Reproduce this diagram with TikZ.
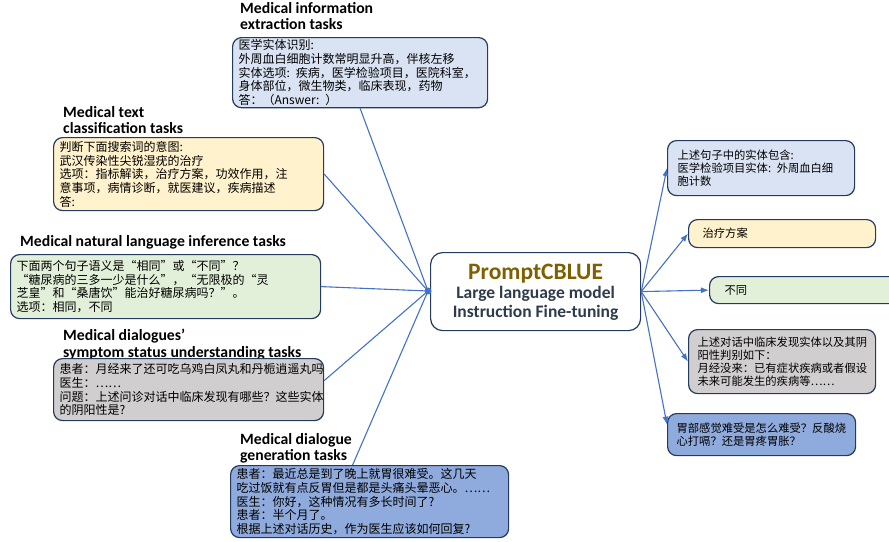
\documentclass[tikz,border=0pt]{standalone}
\usepackage{fontspec}
\setmainfont{Carlito}
\newfontfamily\cjk{Noto Sans CJK SC}
\usepackage{tikz}
\usetikzlibrary{
    arrows.meta,
    positioning
}
\definecolor{boxline}{HTML}{243A5E}
\definecolor{linkblue}{HTML}{4472C4}
\definecolor{fillblue}{HTML}{DAE3F3}
\definecolor{fillyellow}{HTML}{FFF2CC}
\definecolor{fillgreen}{HTML}{E2F0D9}
\definecolor{fillgray}{HTML}{D0CECE}
\definecolor{filldeep}{HTML}{8FAADC}
\definecolor{promptgold}{HTML}{7F6000}
\definecolor{slate}{HTML}{2F3A4A}
\tikzset{
    taskbox/.style={draw=boxline, line width=1.2pt, rounded corners=9pt,
        anchor=north west, align=left, inner xsep=6pt, inner ysep=2pt,
        font=\cjk\fontsize{12}{13.7}\selectfont},
    answerbox/.style={taskbox, font=\cjk\fontsize{11.3}{13.2}\selectfont},
    tasktitle/.style={anchor=north west, align=left, inner sep=0pt,
        font=\bfseries\fontsize{15.7}{16.5}\selectfont},
    link/.style={draw=linkblue, line width=1.1pt},
    answer/.style={link, -{Latex[length=8pt,width=6pt]}},
}

\begin{document}
\begin{tikzpicture}[x=1pt,y=-1pt]
    \useasboundingbox (0,0) rectangle (889,541);

    % task prompts on the left
    \node[tasktitle] (t1) at (240,2) {Medical information\\extraction tasks};
    \node[taskbox, fill=fillblue, text width=243pt, minimum height=69pt] (b1) at (232,37)
        {医学实体识别:\\外周血白细胞计数常明显升高，伴核左移\\实体选项: 疾病，医学检验项目，医院科室，\\身体部位，微生物类，临床表现，药物\\答：（Answer: ）};

    \node[tasktitle] (t2) at (63,106) {Medical text\\classification tasks};
    \node[taskbox, fill=fillyellow, text width=258pt, minimum height=73pt] (b2) at (53,137)
        {判断下面搜索词的意图:\\武汉传染性尖锐湿疣的治疗\\选项：指标解读，治疗方案，功效作用，注\\意事项，病情诊断，就医建议，疾病描述\\答:};

    \node[tasktitle] (t3) at (20,235) {Medical natural language inference tasks};
    \node[taskbox, fill=fillgreen, text width=298pt, minimum height=64pt] (b3) at (10,254)
        {下面两个句子语义是“相同”或“不同”？\\ “糖尿病的三多一少是什么”，“无限极的“灵\\芝皇”和“桑唐饮”能治好糖尿病吗？”。\\选项：相同，不同};

    \node[tasktitle] (t4) at (63,329) {Medical dialogues’\\symptom status understanding tasks};
    \node[taskbox, fill=fillgray, text width=258pt, minimum height=62pt] (b4) at (53,358)
        {患者：月经来了还可吃乌鸡白凤丸和丹栀逍遥丸吗\\医生：……\\问题：上述问诊对话中临床发现有哪些？这些实体\\的阴阳性是?};

    \node[tasktitle] (t5) at (240,433) {Medical dialogue\\generation tasks};
    \node[taskbox, fill=filldeep, text width=266pt, minimum height=72pt] (b5) at (230,465)
        {患者：最近总是到了晚上就胃很难受。这几天\\吃过饭就有点反胃但是都是头痛头晕恶心。……\\医生：你好，这种情况有多长时间了?\\患者：半个月了。\\根据上述对话历史，作为医生应该如何回复?};

    % the model
    \node[draw=boxline, line width=1.2pt, rounded corners=12pt, fill=white,
        minimum width=210pt, minimum height=78pt, anchor=north west] (model) at (430,252) {};
    \node[align=center, font=\bfseries\fontsize{17.5}{19}\selectfont, text=slate] (mtext) at ([yshift=-1pt]model.center)
        {\textcolor{promptgold}{\fontsize{23.5}{24}\selectfont PromptCBLUE}\\Large language model\\Instruction Fine-tuning};
    \coordinate (hub) at (428,291);

    % answers on the right
    \node[answerbox, fill=fillblue, inner xsep=10pt, text width=167pt, minimum height=55pt] (r1) at (667,140)
        {上述句子中的实体包含:\\医学检验项目实体: 外周血白细\\胞计数};
    \node[answerbox, fill=fillyellow, inner xsep=14pt, text width=159pt, minimum height=28pt] (r2) at (688,219)
        {治疗方案};
    \node[answerbox, fill=fillgreen, inner xsep=15pt, text width=170pt, minimum height=27pt] (r3) at (709,276)
        {不同};
    \node[answerbox, fill=fillgray, inner xsep=9pt, text width=169pt, minimum height=64pt] (r4) at (688,329)
        {上述对话中临床发现实体以及其阴\\阳性判别如下：\\月经没来：已有症状疾病或者假设\\未来可能发生的疾病等……};
    \node[answerbox, fill=filldeep, inner xsep=9pt, text width=170pt, minimum height=42pt] (r5) at (667,413)
        {胃部感觉难受是怎么难受？反酸烧\\心打嗝？还是胃疼胃胀？};

    % connectors
    \draw[link] (b1.south) -- (hub);
    \draw[link] (b2.east) -- (hub);
    \draw[link] (b3.east) -- (hub);
    \draw[link] ([yshift=9pt]b4.east) -- (hub);
    \draw[link] ([xshift=-17pt]b5.north) -- (hub);
    \fill[linkblue] (hub) circle (3.5pt);

    \draw[answer] (model.east) -- (r1.west);
    \draw[answer] (model.east) -- (r2.west);
    \draw[answer] (model.east) -- (r3.west);
    \draw[answer] (model.east) -- (r4.west);
    \draw[answer] (model.east) -- ([yshift=10pt]r5.west);
\end{tikzpicture}
\end{document}
